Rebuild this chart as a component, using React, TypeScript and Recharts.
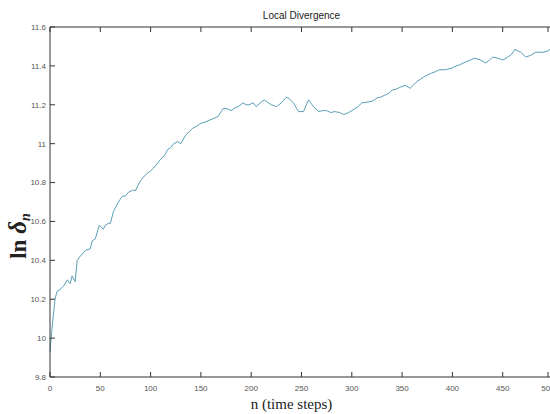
import { Label, Line, LineChart, XAxis, YAxis } from "recharts";

const steps = [
  0, 2, 5, 7, 10, 14, 17, 20, 22, 25, 27, 30, 35, 40, 42, 45, 49, 53, 55, 58,
  60, 63, 65, 68, 72, 75, 78, 82, 85, 90, 95, 100, 103, 107, 110, 114, 117, 120,
  123, 127, 130, 135, 142, 146, 150, 154, 158, 163, 167, 172, 176, 180, 184, 187,
  192, 195, 198, 202, 205, 209, 213, 217, 220, 225, 230, 235, 238, 242, 247, 252,
  257, 262, 267, 271, 275, 279, 283, 288, 292, 297, 303, 306, 310, 317, 321, 325,
  329, 333, 337, 340, 344, 348, 353, 358, 361, 365, 372, 378, 383, 387, 393, 400,
  404, 407, 413, 418, 422, 428, 433, 437, 440, 445, 450, 455, 459, 462, 468, 473,
  478, 483, 487, 490, 494, 497, 500,
];

const divergence = [
  9.93, 10.05, 10.2, 10.24, 10.25, 10.27, 10.3, 10.28, 10.32, 10.29, 10.4, 10.42,
  10.45, 10.46, 10.5, 10.51, 10.58, 10.56, 10.58, 10.59, 10.59, 10.65, 10.67, 10.7,
  10.73, 10.73, 10.75, 10.76, 10.76, 10.81, 10.84, 10.86, 10.875, 10.9, 10.92,
  10.94, 10.97, 10.98, 11.0, 11.01, 11.0, 11.045, 11.08, 11.09, 11.105, 11.11,
  11.12, 11.13, 11.14, 11.18, 11.18, 11.17, 11.185, 11.19, 11.21, 11.2, 11.2,
  11.21, 11.19, 11.21, 11.225, 11.21, 11.2, 11.19, 11.21, 11.24, 11.23, 11.21,
  11.165, 11.165, 11.225, 11.19, 11.165, 11.17, 11.17, 11.16, 11.165, 11.16,
  11.15, 11.16, 11.18, 11.19, 11.21, 11.215, 11.22, 11.235, 11.24, 11.25, 11.26,
  11.275, 11.28, 11.29, 11.3, 11.285, 11.3, 11.32, 11.345, 11.36, 11.37, 11.38,
  11.38, 11.39, 11.4, 11.405, 11.42, 11.43, 11.44, 11.43, 11.415, 11.43, 11.445,
  11.44, 11.43, 11.445, 11.46, 11.485, 11.47, 11.445, 11.455, 11.47, 11.47, 11.47,
  11.475, 11.485, 11.48,
];

const xTicks = [0, 50, 100, 150, 200, 250, 300, 350, 400, 450, 500];
const yTicks = [9.8, 10, 10.2, 10.4, 10.6, 10.8, 11, 11.2, 11.4, 11.6];

const data = steps.map((n, i) => ({ n, value: divergence[i] }));

const axisColor = "#333";
const tickFamily = "'Liberation Sans Narrow', 'Liberation Sans', sans-serif";

// MATLAB-style ticks point into the plot box, so draw line + label ourselves
const BottomTick = (props: any) => {
  const { x, y, payload } = props;
  return (
    <g>
      <line x1={x} y1={y - 8} x2={x} y2={y - 13} stroke={axisColor} />
      <text x={x} y={y} dy="0.71em" textAnchor="middle" fontSize={8} fill="#555" fontFamily={tickFamily}>
        {payload.value}
      </text>
    </g>
  );
};

const LeftTick = (props: any) => {
  const { x, y, payload } = props;
  return (
    <g>
      <line x1={x + 4} y1={y} x2={x + 9} y2={y} stroke={axisColor} />
      <text x={x} y={y} dy="0.355em" textAnchor="end" fontSize={8} fill="#555" fontFamily={tickFamily}>
        {String(payload.value)}
      </text>
    </g>
  );
};

const TopTick = (props: any) => {
  const { x, y } = props;
  return <line x1={x} y1={y} x2={x} y2={y + 5} stroke={axisColor} />;
};

const RightTick = (props: any) => {
  const { x, y } = props;
  return <line x1={x} y1={y} x2={x - 5} y2={y} stroke={axisColor} />;
};

const App = () => {
  return (
    <div style={{ position: "absolute", left: 0, top: 0, width: 550, height: 414, overflow: "hidden", background: "#fff" }}>
      <LineChart width={560} height={414} data={data} margin={{ top: 0, right: 0, bottom: 0, left: 0 }}>
        <XAxis
          xAxisId="top"
          orientation="top"
          dataKey="n"
          type="number"
          domain={[0, 500]}
          ticks={xTicks}
          height={27}
          tick={<TopTick />}
          tickLine={false}
          tickSize={0}
          tickMargin={0}
          stroke={axisColor}
        >
          <Label
            content={({ viewBox }: any) => (
              <text
                x={viewBox.x + viewBox.width / 2}
                y={19}
                textAnchor="middle"
                fontSize={10}
                fontFamily={tickFamily}
                fill="#222"
              >
                Local Divergence
              </text>
            )}
          />
        </XAxis>
        <XAxis
          xAxisId="bottom"
          dataKey="n"
          type="number"
          domain={[0, 500]}
          ticks={xTicks}
          height={37}
          tick={<BottomTick />}
          tickLine={false}
          tickSize={0}
          tickMargin={8}
          stroke={axisColor}
        >
          <Label
            content={({ viewBox }: any) => (
              <text
                x={viewBox.x + viewBox.width / 2 - 10}
                y={409}
                textAnchor="middle"
                fontSize={15}
                fontFamily="'Liberation Serif', serif"
                fill="#222"
              >
                n (time steps)
              </text>
            )}
          />
        </XAxis>
        <YAxis
          yAxisId="left"
          domain={[9.8, 11.6]}
          ticks={yTicks}
          width={50}
          tick={<LeftTick />}
          tickLine={false}
          tickSize={0}
          tickMargin={4}
          stroke={axisColor}
        >
          <Label
            content={({ viewBox }: any) => (
              <text
                transform={`translate(26, ${viewBox.y + viewBox.height / 2 + 34}) rotate(-90)`}
                textAnchor="middle"
                fontFamily="'Liberation Serif', serif"
                fill="#222"
              >
                <tspan fontSize={23} fontWeight="bold">ln </tspan>
                <tspan fontSize={25} fontWeight="bold" fontStyle="italic">δ</tspan>
                <tspan fontSize={14} fontWeight="bold" fontStyle="italic" dy={4}>n</tspan>
              </text>
            )}
          />
        </YAxis>
        <YAxis
          yAxisId="right"
          orientation="right"
          domain={[9.8, 11.6]}
          ticks={yTicks}
          width={7}
          tick={<RightTick />}
          tickLine={false}
          tickSize={0}
          tickMargin={0}
          stroke={axisColor}
        />
        <Line
          xAxisId="bottom"
          yAxisId="left"
          type="linear"
          dataKey="value"
          stroke="#5a9fb5"
          strokeWidth={1}
          dot={false}
          isAnimationActive={false}
        />
      </LineChart>
    </div>
  );
};

export default App;
